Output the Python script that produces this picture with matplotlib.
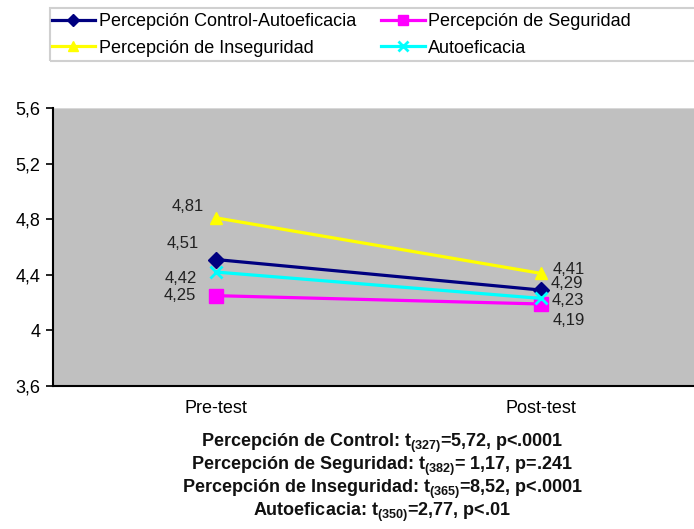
import matplotlib
matplotlib.use("Agg")
import matplotlib.pyplot as plt
from matplotlib.patches import Rectangle

plt.rcParams['font.family'] = ['Liberation Sans', 'DejaVu Sans']
plt.rcParams['mathtext.fontset'] = 'custom'
plt.rcParams['mathtext.rm'] = 'Liberation Sans:bold'
plt.rcParams['mathtext.it'] = 'Liberation Sans:bold'
plt.rcParams['mathtext.bf'] = 'Liberation Sans:bold'

momentos = ['Pre-test', 'Post-test']
control = [4.51, 4.29]
seguridad = [4.25, 4.19]
inseguridad = [4.81, 4.41]
autoeficacia = [4.42, 4.23]
yticks = [3.6, 4.0, 4.4, 4.8, 5.2, 5.6]

fig = plt.figure(figsize=(6.94, 5.29), dpi=100)
W, H = 694, 529
ax = fig.add_axes([53 / W, 1 - 386 / H, (W - 53) / W, (386 - 108) / H])
ax.set_facecolor('#C0C0C0')

x = [0, 1]
l1, = ax.plot(x, control, color='#000080', lw=2.3, marker='D', ms=8, label='Percepción Control-Autoeficacia')
l2, = ax.plot(x, seguridad, color='#FF00FF', lw=2.3, marker='s', ms=10, label='Percepción de Seguridad')
l3, = ax.plot(x, inseguridad, color='#FFFF00', lw=2.3, marker='^', ms=9, label='Percepción de Inseguridad')
l4, = ax.plot(x, autoeficacia, color='#00FFFF', lw=2.3, marker='x', ms=9, mew=2, label='Autoeficacia')

def fmt(v):
    return f'{v:.2f}'.replace('.', ',')

# etiquetas de valor, desplazadas en pixeles respecto a cada punto
etiquetas = [
    (0, inseguridad[0], (-28, 11)),
    (0, control[0], (-33, 16)),
    (0, autoeficacia[0], (-35, -6)),
    (0, seguridad[0], (-36, 0)),
    (1, inseguridad[1], (28, 4)),
    (1, control[1], (26, 7)),
    (1, autoeficacia[1], (27, -2)),
    (1, seguridad[1], (28, -17)),
]
for xi, v, off in etiquetas:
    ax.annotate(fmt(v), (xi, v), xytext=off, textcoords='offset pixels',
                ha='center', va='center', fontsize=12, color='#222222')

ax.set_xlim(-0.5, 1 + (W - 541) / 326)
ax.set_ylim(3.6, 5.6)
ax.set_xticks(x)
ax.set_xticklabels(momentos, fontsize=13)
ax.tick_params(axis='x', length=0, pad=10)
ax.set_yticks(yticks)
ax.set_yticklabels([f'{t:g}'.replace('.', ',') for t in yticks], fontsize=13)
ax.tick_params(axis='y', length=5, width=1.2, direction='out', pad=4)
for s in ['top', 'right']:
    ax.spines[s].set_visible(False)
ax.spines['left'].set_linewidth(1.5)
ax.spines['bottom'].set_linewidth(1.5)
ax.axhline(5.6, color='#D8D8D8', lw=1.5)

# marco de la leyenda (se sale por la derecha)
fig.patches.append(Rectangle((50 / W, 1 - 61 / H), 700 / W, 53 / H, transform=fig.transFigure,
                             fill=False, edgecolor='#D0D0D0', lw=1.5))
leg = fig.legend(handles=[l1, l3, l2, l4], loc='center left', ncol=2,
                 bbox_to_anchor=(50 / W, 1 - 35 / H), fontsize=13, frameon=False,
                 handlelength=2.4, handletextpad=0.2, markerscale=0.75,
                 columnspacing=1.4, borderpad=0.1, borderaxespad=0, labelspacing=0.5)

stats = [
    r'Percepción de Control: t$_{(327)}$=5,72, p<.0001',
    r'Percepción de Seguridad: t$_{(382)}$= 1,17, p=.241',
    r'Percepción de Inseguridad: t$_{(365)}$=8,52, p<.0001',
    r'Autoeficacia: t$_{(350)}$=2,77, p<.01',
]
for i, s in enumerate(stats):
    fig.text(382 / W, 1 - (443 + i * 23.3) / H, s, ha='center', va='center',
             fontsize=13, fontweight='bold', color='#111111')

fig.savefig('out.png', dpi=100)
